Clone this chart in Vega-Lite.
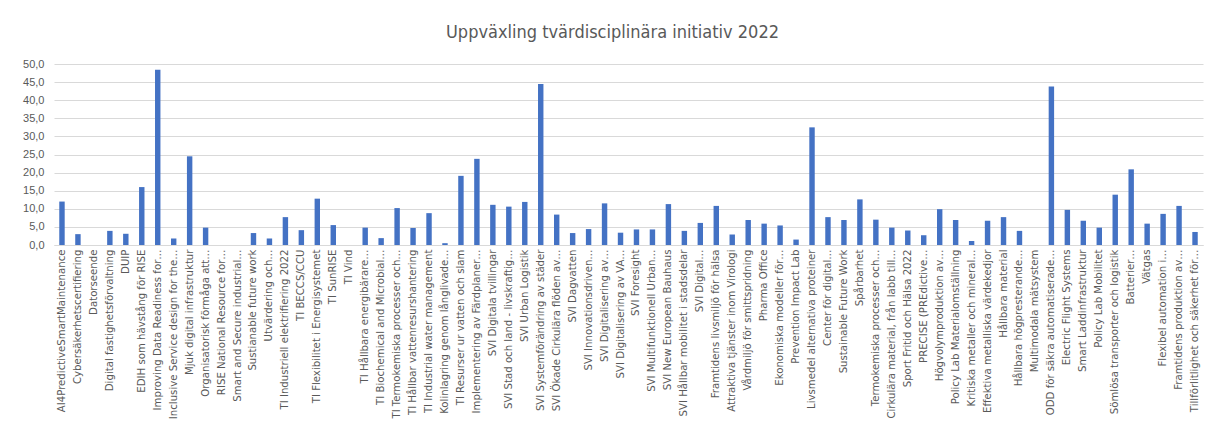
{
  "$schema": "https://vega.github.io/schema/vega-lite/v6.json",
  "autosize": "none",
  "width": 1149,
  "height": 181,
  "padding": {"left": 54, "top": 64, "right": 6, "bottom": 181},
  "background": "white",
  "title": {
    "text": "Uppväxling tvärdisciplinära initiativ 2022",
    "font": "Liberation Sans Narrow, DejaVu Sans Condensed, sans-serif",
    "fontSize": 18,
    "fontWeight": "normal",
    "color": "#595959",
    "anchor": "middle",
    "dx": -16,
    "offset": 16
  },
  "data": {
    "values": [
      {"namn": "AI4PredictiveSmartMaintenance", "v": 12.0},
      {"namn": "Cybersäkerhetscertifiering", "v": 3.0},
      {"namn": "Datorseende", "v": 0},
      {"namn": "Digital fastighetsförvaltning", "v": 3.9},
      {"namn": "DUIP", "v": 3.1},
      {"namn": "EDIH som hävstång för RISE", "v": 16.0},
      {"namn": "Improving Data Readiness for…", "v": 48.4},
      {"namn": "Inclusive Service design for the…", "v": 1.8},
      {"namn": "Mjuk digital infrastruktur", "v": 24.5},
      {"namn": "Organisatorisk förmåga att…", "v": 4.8},
      {"namn": "RISE National Resource for…", "v": 0},
      {"namn": "Smart and Secure industrial…", "v": 0},
      {"namn": "Sustianable future work", "v": 3.3},
      {"namn": "Utvärdering och…", "v": 1.8},
      {"namn": "TI Industriell elektrifiering 2022", "v": 7.7},
      {"namn": "TI BECCS/CCU", "v": 4.1},
      {"namn": "TI Flexibilitet i Energisystemet", "v": 12.8},
      {"namn": "TI SunRISE", "v": 5.5},
      {"namn": "TI Vind", "v": 0},
      {"namn": "TI Hållbara energibärare…", "v": 4.8},
      {"namn": "TI Biochemical and Microbial…", "v": 1.9},
      {"namn": "TI Termokemiska processer och…", "v": 10.2},
      {"namn": "TI Hållbar vattenresurshantering", "v": 4.7},
      {"namn": "TI Industrial water management", "v": 8.8},
      {"namn": "Kolinlagring genom långlivade…", "v": 0.5},
      {"namn": "TI Resurser ur vatten och slam", "v": 19.1},
      {"namn": "Implementering av Färdplaner…", "v": 23.8},
      {"namn": "SVI Digitala tvillingar", "v": 11.1},
      {"namn": "SVI Stad och land - livskraftig…", "v": 10.6},
      {"namn": "SVI Urban Logistik", "v": 11.9},
      {"namn": "SVI Systemförändring av städer", "v": 44.5},
      {"namn": "SVI Ökade Cirkulära flöden av…", "v": 8.4},
      {"namn": "SVI Dagvatten", "v": 3.3},
      {"namn": "SVI Innovationsdriven…", "v": 4.4},
      {"namn": "SVI Digitalisering av…", "v": 11.5},
      {"namn": "SVI Digitalisering av VA…", "v": 3.4},
      {"namn": "SVI Foresight", "v": 4.3},
      {"namn": "SVI Multifunktionell Urban…", "v": 4.3},
      {"namn": "SVI New European Bauhaus", "v": 11.3},
      {"namn": "SVI Hållbar mobilitet i stadsdelar", "v": 3.9},
      {"namn": "SVI Digital…", "v": 6.1},
      {"namn": "Framtidens livsmiljö för hälsa", "v": 10.8},
      {"namn": "Attraktiva tjänster inom Virologi", "v": 2.9},
      {"namn": "Vårdmiljö för smittspridning", "v": 6.9},
      {"namn": "Pharma Office", "v": 5.9},
      {"namn": "Ekonomiska modeller för…", "v": 5.4},
      {"namn": "Prevention Impact Lab", "v": 1.5},
      {"namn": "Livsmedel alternativa proteiner", "v": 32.5},
      {"namn": "Center för digital…", "v": 7.7},
      {"namn": "Sustainable Future Work", "v": 6.9},
      {"namn": "Spårbarhet", "v": 12.6},
      {"namn": "Termokemiska processer och…", "v": 7.0},
      {"namn": "Cirkulära material, från labb till…", "v": 4.8},
      {"namn": "Sport Fritid och Hälsa 2022", "v": 4.0},
      {"namn": "PRECISE (PREdictive…", "v": 2.7},
      {"namn": "Högvolymproduktion av…", "v": 9.9},
      {"namn": "Policy Lab Materialomställning", "v": 6.9},
      {"namn": "Kritiska metaller och mineral…", "v": 1.1},
      {"namn": "Effektiva metalliska värdekedjor", "v": 6.7},
      {"namn": "Hållbara material", "v": 7.7},
      {"namn": "Hållbara högpresterande…", "v": 3.9},
      {"namn": "Multimodala mätsystem", "v": 0},
      {"namn": "ODD för säkra automatiserade…", "v": 43.8},
      {"namn": "Electric Flight Systems", "v": 9.7},
      {"namn": "Smart Laddinfrastruktur", "v": 6.7},
      {"namn": "Policy Lab Mobilitet", "v": 4.8},
      {"namn": "Sömlösa transporter och logistik", "v": 13.9},
      {"namn": "Batterier…", "v": 20.9},
      {"namn": "Vätgas", "v": 5.9},
      {"namn": "Flexibel automation i…", "v": 8.6},
      {"namn": "Framtidens produktion av…", "v": 10.8},
      {"namn": "Tillförlitlighet och säkerhet för…", "v": 3.6}
    ]
  },
  "mark": {"type": "bar", "color": "#4472C4"},
  "encoding": {
    "x": {
      "field": "namn",
      "type": "nominal",
      "sort": null,
      "scale": {"paddingInner": 0.66, "paddingOuter": 0.33},
      "axis": {
        "title": null,
        "labelAngle": -90,
        "labelLimit": 0,
        "labelFont": "Liberation Sans Narrow, DejaVu Sans Condensed, sans-serif",
        "labelFontSize": 11.3,
        "labelColor": "#595959",
        "labelPadding": 4,
        "ticks": false,
        "domainColor": "#d9d9d9",
        "domainWidth": 1
      }
    },
    "y": {
      "field": "v",
      "type": "quantitative",
      "scale": {"domain": [0, 50], "nice": false},
      "axis": {
        "title": null,
        "values": [0, 5, 10, 15, 20, 25, 30, 35, 40, 45, 50],
        "labelExpr": "replace(format(datum.value, '.1f'), '.', ',')",
        "labelFont": "Liberation Sans, Arial, sans-serif",
        "labelFontSize": 11,
        "labelColor": "#595959",
        "labelPadding": 10,
        "domain": false,
        "ticks": false,
        "gridColor": "#d9d9d9",
        "gridWidth": 1
      }
    }
  },
  "config": {"view": {"stroke": null}}
}
